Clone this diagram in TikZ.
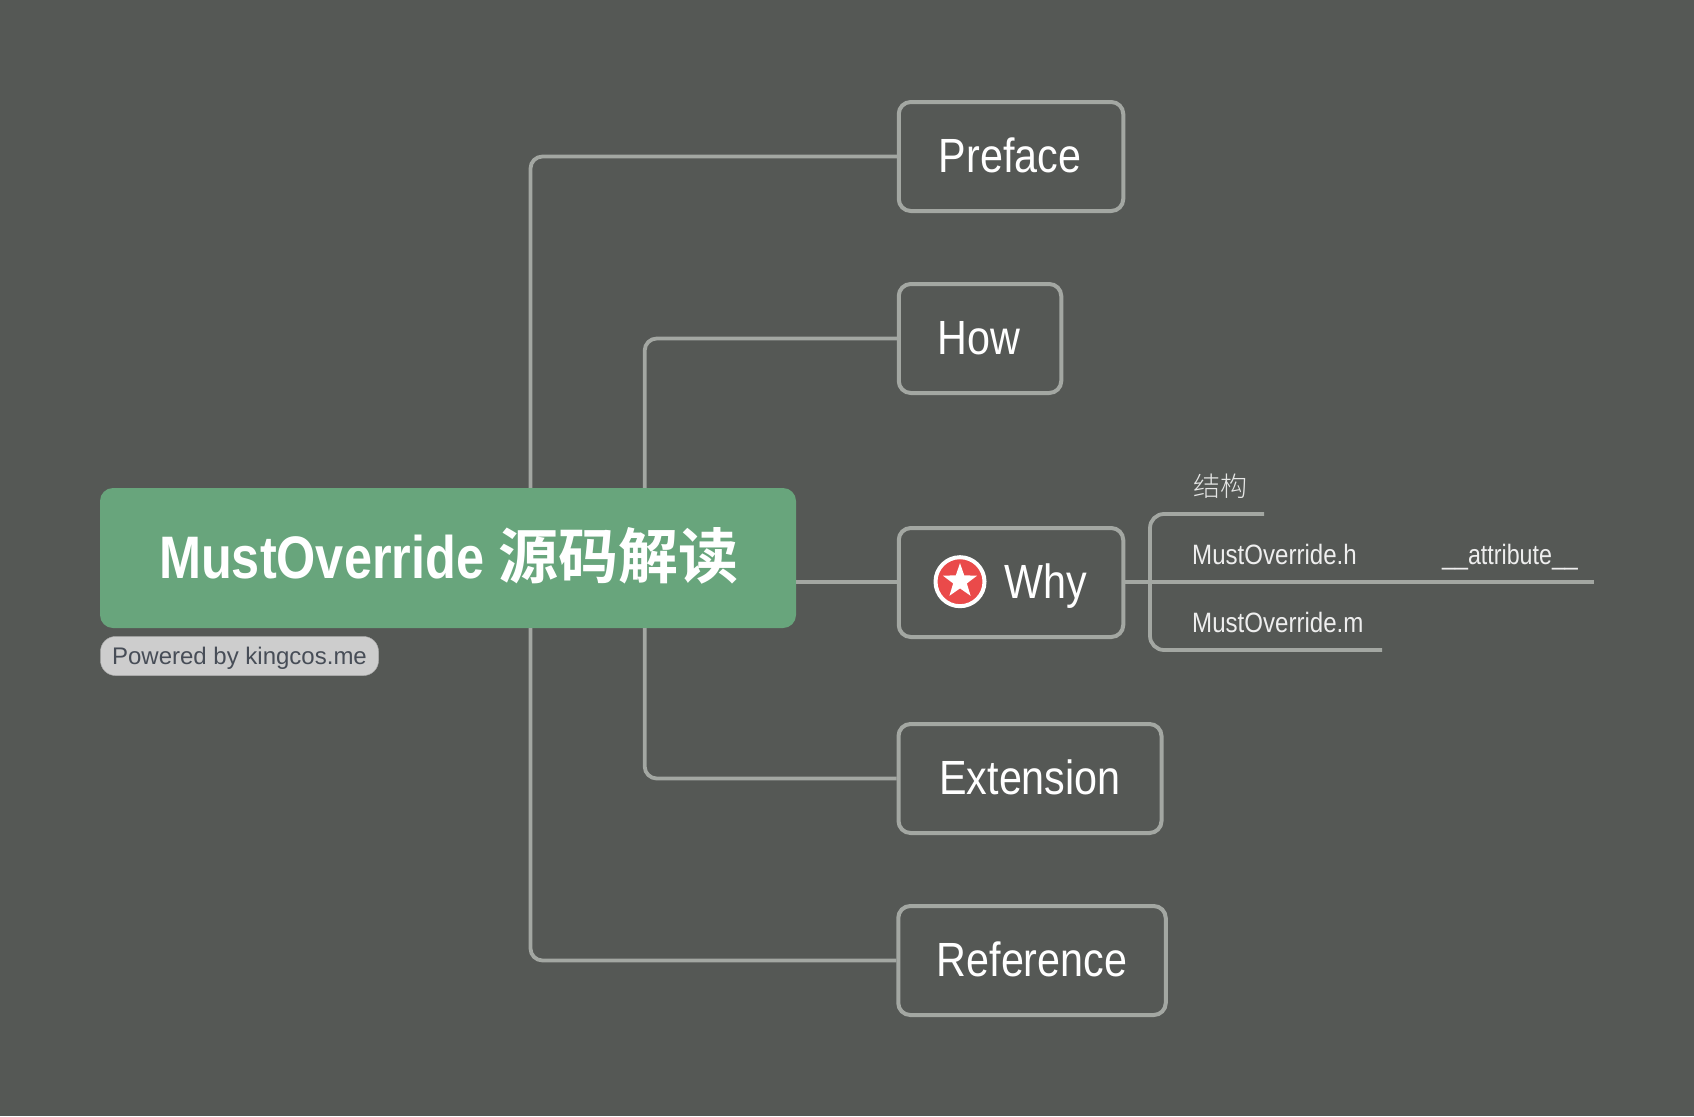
\documentclass[tikz,border=0pt]{standalone}
\usepackage{fontspec}
\usetikzlibrary{shapes.geometric,calc}
\setmainfont{Liberation Sans}
\newfontfamily\rcn[FakeStretch=0.86]{Liberation Sans}
\newfontfamily\rct[FakeStretch=0.84]{Liberation Sans Bold}
\newfontfamily\rcs[FakeStretch=0.86]{Liberation Sans}
\newfontfamily\rca[FakeStretch=0.83]{Liberation Sans}
\newfontfamily\cjkb{Noto Sans CJK SC Bold}
\newfontfamily\cjkl{Noto Sans CJK SC Light}
\definecolor{bgc}{HTML}{555855}
\definecolor{linec}{HTML}{A3A7A2}
\definecolor{rootc}{HTML}{68A57C}
\definecolor{badgec}{HTML}{CDCDCD}
\definecolor{badget}{HTML}{474D57}
\definecolor{starc}{HTML}{EA4A4A}
\tikzset{
  conn/.style={draw=linec,line width=3.8pt,rounded corners=12pt},
  topicbox/.style={draw=linec,line width=4pt,rounded corners=12pt,fill=bgc,inner sep=0pt,
    minimum height=109pt,text=white,text height=32pt,text depth=0pt,
    font={\rcn\fontsize{48}{48}\selectfont}},
  sublabel/.style={anchor=base west,inner sep=0pt,text=white!90!bgc,font={\rcs\fontsize{28}{28}\selectfont}},
}
\begin{document}
\begin{tikzpicture}[x=1pt,y=-1pt]
\useasboundingbox[fill=bgc] (0,0) rectangle (1694,1116);
% nodes
\node[fill=rootc,rounded corners=13pt,minimum width=696pt,minimum height=140pt,inner sep=0pt] (root) at (448,558) {};
\node[anchor=base west,inner sep=0pt,text=white] (title) at (159,578)
  {\rct\fontsize{60}{60}\selectfont MustOverride \cjkb\fontsize{60}{60}\selectfont 源码解读};
\node[fill=badgec,draw=badgec!85!black,line width=.5pt,rounded corners=15pt,minimum width=278pt,minimum height=39pt,inner sep=0pt,
  text=badget,text height=17pt,text depth=0pt,font=\fontsize{24}{24}\selectfont] (badge) at (239.5,656) {Powered by kingcos.me};
\node[topicbox,minimum width=224.5pt] (preface) at (1011,156.5) {\hspace*{-2pt}Preface};
\node[topicbox,minimum width=162.5pt] (how) at (980,338.5) {\hspace*{-2pt}How};
\node[topicbox,minimum width=224.5pt] (why) at (1011,582.5) {\hspace*{69pt}Why};
\node[topicbox,minimum width=263pt] (extension) at (1030,778.5) {Extension};
\node[topicbox,minimum width=267.5pt] (reference) at (1032,960.5) {Reference};
\node[circle,fill=starc,draw=white,line width=4pt,minimum size=49pt,inner sep=0pt] (badgeicon) at (960,581.7) {};
\node[star,star points=5,star point ratio=2.5,fill=white,minimum size=36pt,inner sep=0pt] (staricon) at (960,581.2) {};
\node[anchor=base west,inner sep=0pt,text=white!85!bgc,font={\cjkl\fontsize{27}{27}\selectfont}] (jiegou) at (1193,496) {结构};
\node[sublabel] (mh) at (1192,564) {MustOverride.h};
\node[sublabel,font={\rca\fontsize{28}{28}\selectfont}] (attr) at (1442,564) {\_\_attribute\_\_};
\node[sublabel] (mm) at (1192,632) {MustOverride.m};
% named junctions and free ends
\coordinate (outerx) at (530.5,0);
\coordinate (innerx) at (644.7,0);
\coordinate (forkx) at (1150,581.7);
\coordinate (jiegouend) at (1264,514);
\coordinate (mhend) at (1594,581.7);
\coordinate (mmend) at (1382,650);
% connectors
\draw[conn] (outerx |- root.north) |- (preface.west);
\draw[conn] (innerx |- root.north) |- (how.west);
\draw[conn] (innerx |- root.south) |- (extension.west);
\draw[conn] (outerx |- root.south) |- (reference.west);
\draw[conn] (root.east |- forkx) -- (why.west |- forkx);
\draw[conn] (why.east |- forkx) -- (mhend);
\draw[conn,rounded corners=14pt] (jiegouend) -| (forkx) |- (mmend);
\end{tikzpicture}
\end{document}
